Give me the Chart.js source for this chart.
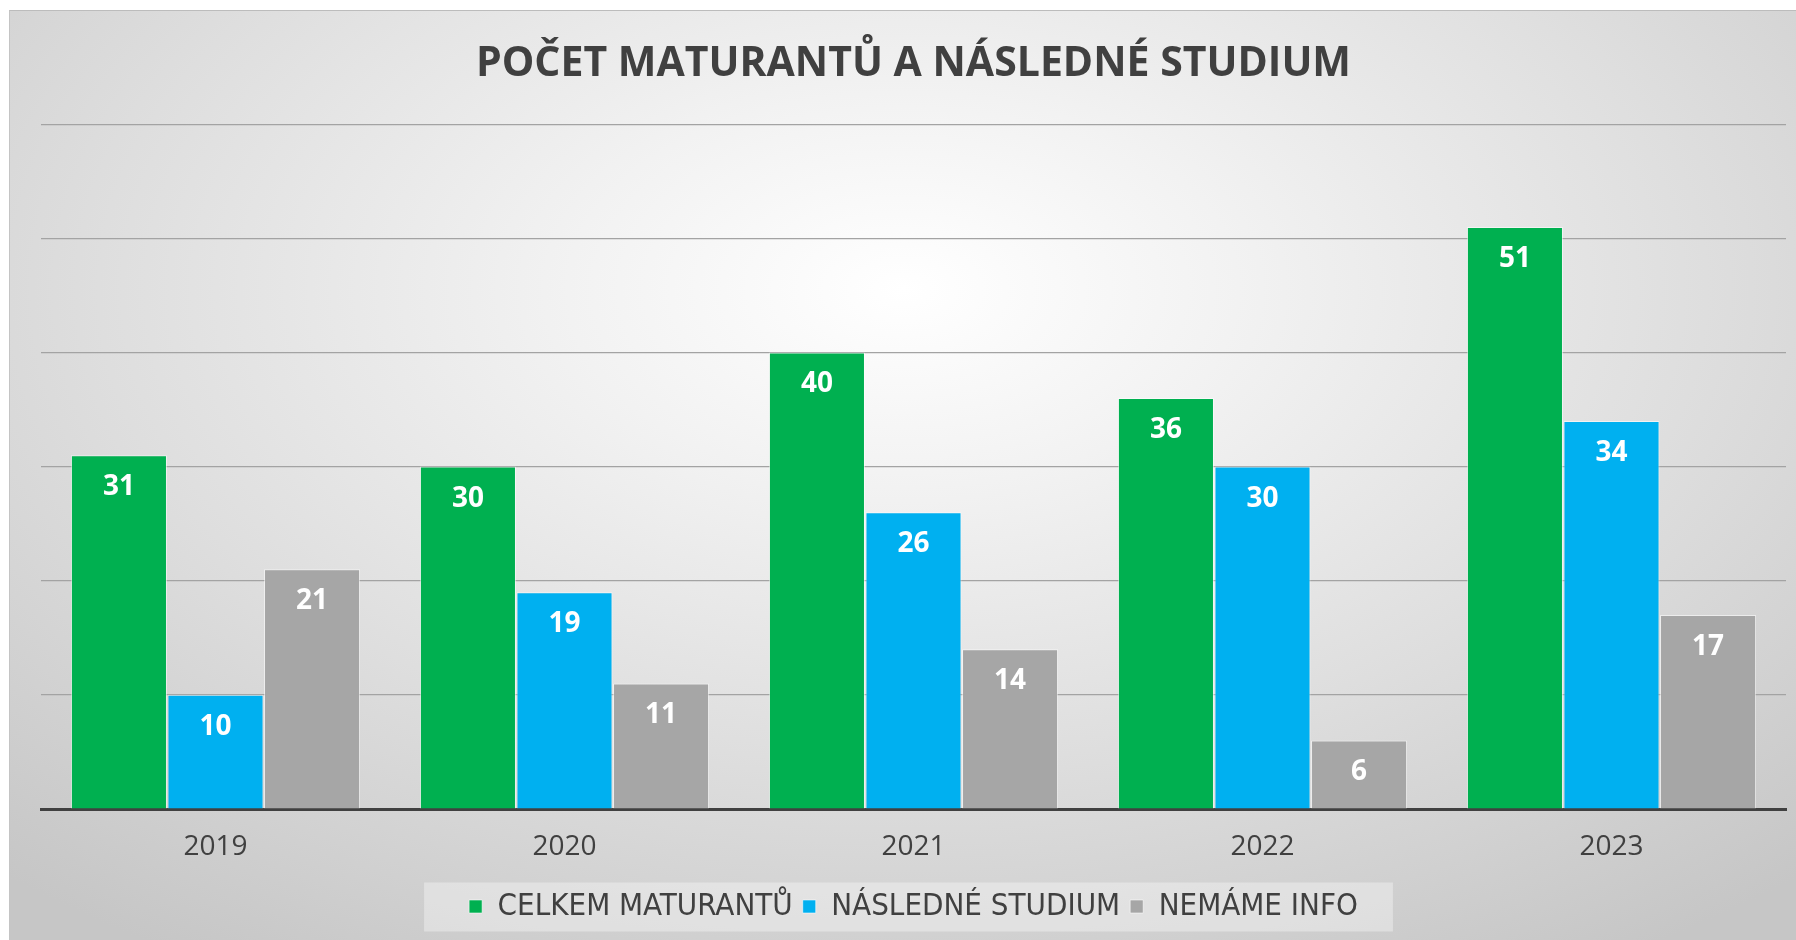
<!DOCTYPE html>
<html>
<head>
<meta charset="utf-8">
<script src="https://cdn.jsdelivr.net/npm/chart.js@4"></script>
<style>
  html, body { margin: 0; padding: 0; background: #fff; }
  #box {
    position: absolute; left: 9px; top: 10px; width: 1787px; height: 930px;
    border-top: 1px solid #bcbcbc; border-left: 1px solid #c4c4c4; box-sizing: border-box;
    background: radial-gradient(ellipse 75% 85% at 50% 30%, #ffffff 0%, #f2f2f2 25%, #dedede 60%, #c6c6c6 100%);
  }
  canvas { display: block; }
</style>
</head>
<body>
<div id="box"><canvas id="graf" width="1786" height="929"></canvas></div>
<script>
// data
var roky = ['2019', '2020', '2021', '2022', '2023'];
var celkem = [31, 30, 40, 36, 51];
var studium = [10, 19, 26, 30, 34];
var nemame = [21, 11, 14, 6, 17];
var yTicks = [0, 10, 20, 30, 40, 50, 60];

var nadpis = 'POČET MATURANTŮ A NÁSLEDNÉ STUDIUM';
var nazvy = ['CELKEM MATURANTŮ', 'NÁSLEDNÉ STUDIUM', 'NEMÁME INFO'];
var barvy = ['#00B050', '#00B0F0', '#A6A6A6'];

// cisla do sloupcu
var popisky = {
  id: 'popisky',
  afterDatasetsDraw: function(chart) {
    var ctx = chart.ctx;
    ctx.save();
    ctx.fillStyle = '#ffffff';
    ctx.font = 'bold 28px "Open Sans", sans-serif';
    ctx.textAlign = 'center';
    ctx.textBaseline = 'middle';
    chart.data.datasets.forEach(function(ds, i) {
      chart.getDatasetMeta(i).data.forEach(function(bar, j) {
        ctx.fillText(ds.data[j], bar.x, bar.y + 32);
      });
    });
    ctx.restore();
  }
};

// svetly obdelnik pod legendou
var legendaPozadi = {
  id: 'legendaPozadi',
  beforeDraw: function(chart) {
    var boxes = chart.legend.legendHitBoxes;
    if (!boxes || !boxes.length) return;
    var first = boxes[0], last = boxes[boxes.length - 1];
    var ctx = chart.ctx;
    ctx.save();
    ctx.fillStyle = 'rgba(255,255,255,0.35)';
    var midY = first.top + first.height / 2;
    ctx.fillRect(first.left - 45, midY - 24, (last.left + last.width) - first.left + 80, 49);
    ctx.restore();
  }
};

var ctx = document.getElementById('graf');
var myChart = new Chart(ctx, {
  type: 'bar',
  plugins: [legendaPozadi, popisky],
  data: {
    labels: roky,
    datasets: [
      { label: nazvy[0], data: celkem, backgroundColor: barvy[0] },
      { label: nazvy[1], data: studium, backgroundColor: barvy[1] },
      { label: nazvy[2], data: nemame, backgroundColor: barvy[2] }
    ]
  },
  options: {
    responsive: false,
    animation: false,
    layout: { padding: { left: 31, right: 10, top: 0, bottom: 8 } },
    datasets: {
      bar: {
        categoryPercentage: 0.83,
        barPercentage: 0.995,
        borderWidth: 1,
        borderColor: 'rgba(255,255,255,0.55)'
      }
    },
    scales: {
      x: {
        grid: { display: false, drawTicks: false },
        border: { display: true, color: '#404040', width: 3 },
        ticks: { color: '#404040', padding: 21, font: { family: '"Open Sans", sans-serif', size: 28 } },
        afterFit: function(s) { s.height = 72; }
      },
      y: {
        min: 0, max: 60,
        afterBuildTicks: function(s) { s.ticks = yTicks.map(function(v) { return { value: v }; }); },
        ticks: { display: false },
        grid: { color: '#a3a3a3', lineWidth: 1.2, drawTicks: false },
        border: { display: false },
        afterFit: function(s) { s.width = 0; }
      }
    },
    plugins: {
      title: {
        display: true,
        text: nadpis,
        color: '#404040',
        font: { family: '"Open Sans", sans-serif', size: 41, weight: 'bold', lineHeight: 1.2 },
        padding: { top: 29, bottom: 35 }
      },
      legend: {
        position: 'bottom',
        labels: {
          boxWidth: 13,
          boxHeight: 13,
          padding: 10,
          color: '#404040',
          font: { family: '"DejaVu Sans Condensed", sans-serif', size: 31 }
        }
      },
      tooltip: { enabled: false }
    }
  }
});
</script>
</body>
</html>
